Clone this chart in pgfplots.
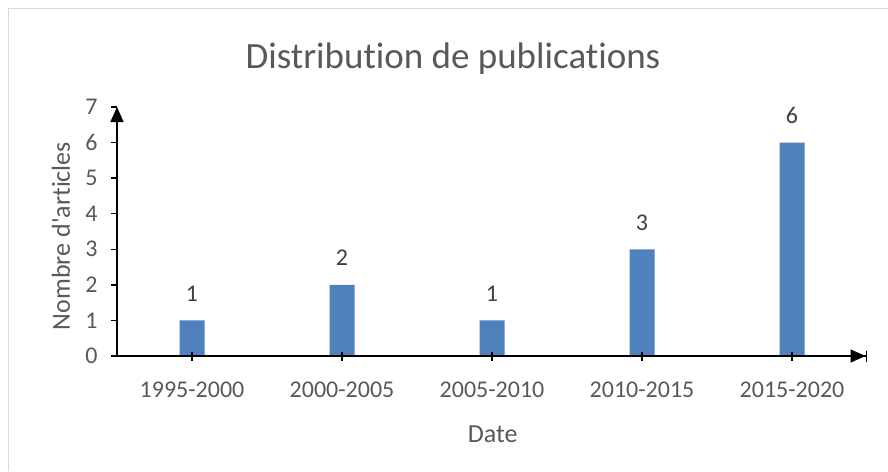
\documentclass[border=0pt]{standalone}
\usepackage{pgfplots}
\pgfplotsset{compat=1.18}
\usepackage{fontspec}
\setmainfont{Carlito}[Ligatures={NoCommon,TeXOff}]
\usetikzlibrary{arrows.meta}
\definecolor{txt}{HTML}{595959}
\definecolor{lbl}{HTML}{404040}
\definecolor{barc}{HTML}{4F81BD}
\definecolor{frame}{HTML}{D9D9D9}
\begin{document}
\begin{tikzpicture}
\useasboundingbox (0,0) rectangle (888pt,-471pt);
\fill[white] (0,0) rectangle (888pt,-471pt);
\draw[frame, line width=1.5pt] (8.5pt,-471pt) -- (8.5pt,-8.5pt) -- (888pt,-8.5pt);
\begin{axis}[
  at={(117pt,-356pt)}, anchor=south west,
  scale only axis, width=750pt, height=249pt,
  xmin=-0.5, xmax=4.5, ymin=0, ymax=7,
  axis lines=left,
  axis on top,
  x axis line style={-{Triangle[length=15pt,width=13pt]Bar[width=11pt,line width=1.5pt]}},
  y axis line style={-{Triangle[length=15pt,width=13pt]}},
  axis line style={line width=1.5pt, black},
  ybar, bar width=25pt,
  xtick=data,
  xticklabels={1995-2000,2000-2005,2005-2010,2010-2015,2015-2020},
  ytick={0,1,...,7},
  tick align=outside,
  major tick length=6pt,
  tick style={line width=1.3pt, black},
  xtick style={/pgfplots/major tick length=9pt, yshift=4.5pt},
  /pgf/number format/assume math mode=true,
  ticklabel style={font=\fontsize{24}{28}\selectfont, text=txt},
  x tick label style={anchor=base, yshift=-35pt},
  y tick label style={anchor=east, xshift=-10pt},
  title={Distribution de publications},
  title style={at={(axis description cs:0.448,1.129)}, anchor=base, font=\fontsize{37}{44}\selectfont, text=txt},
  xlabel={Date},
  xlabel style={at={(axis description cs:0.501,-0.349)}, anchor=base, font=\fontsize{26}{31}\selectfont, text=txt},
  ylabel={Nombre d'articles},
  ylabel style={at={(axis description cs:-0.0627,0.482)}, anchor=base, rotate=0, font=\fontsize{26}{31}\selectfont, text=txt},
  nodes near coords,
  every node near coord/.append style={anchor=base, yshift=19pt, font=\fontsize{24}{28}\selectfont, text=lbl},
  clip=false,
]
\addplot[fill=barc, draw=none] coordinates {(0,1) (1,2) (2,1) (3,3) (4,6)};
\end{axis}
\end{tikzpicture}
\end{document}
